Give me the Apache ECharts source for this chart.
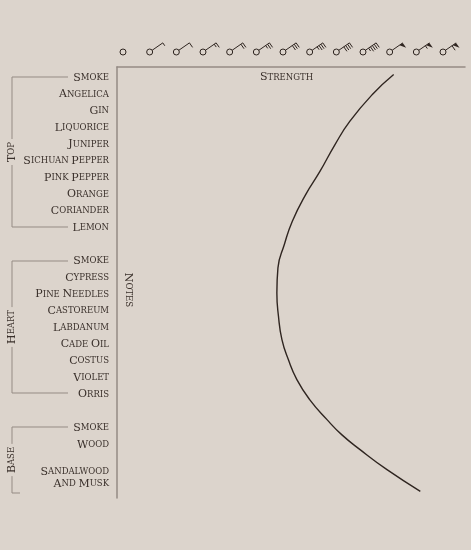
<!DOCTYPE html>
<html><head><meta charset="utf-8">
<script src="https://cdn.jsdelivr.net/npm/echarts@6/dist/echarts.min.js"></script>
<style>html,body{margin:0;background:#dcd4cc}#c{width:471px;height:550px}</style>
</head><body><div id="c"></div>
<script>
const topNotes = ['Smoke','Angelica','Gin','Liquorice','Juniper','Sichuan Pepper','Pink Pepper','Orange','Coriander','Lemon'];
const heartNotes = ['Smoke','Cypress','Pine needles','Castoreum','Labdanum','Cade oil','Costus','Violet','Orris'];
const baseNotes = ['Smoke','Wood','Ambrarome','Sandalwood\nand Musk'];
const strengthLevels = [0,1,2,3,4,5,6,7,8,9,10,11,12];
// curve samples: [row position, strength]
const curveRows =     [-0.2, 1.0, 2.6, 4.0, 5.6, 7.0, 8.6, 10.0, 11.4, 12.9, 14.3, 15.7, 16.9, 18.1, 19.3, 20.5, 21.4, 22.3, 23.5, 24.8];
const curveStrength = [10.0, 9.2, 8.36, 7.8, 7.24, 6.7, 6.2, 5.9, 5.66, 5.62, 5.68, 5.81, 6.05, 6.37, 6.85, 7.5, 8.05, 8.74, 9.75, 11.0];

const rowPos = {}; const rowVals = [];
topNotes.forEach((n,i)=>{rowPos[i]=n;rowVals.push(i);});
heartNotes.forEach((n,i)=>{rowPos[11+i]=n;rowVals.push(11+i);});
baseNotes.forEach((n,i)=>{rowPos[21+i]=n;rowVals.push(21+i);});

const ink = '#3a302b', rule = '#958b84';
function smallCaps(s){
  return s.split('\n').map(line=>line.split(' ').map(w=>'{a|'+w[0].toUpperCase()+'}{b|'+w.slice(1).toUpperCase()+'}').join('{b| }')).join('\n');
}
const chart = echarts.init(document.getElementById('c'));
const serif = 'DejaVu Serif';
const ymin = -0.65, ymax = 25.2;
const rich2 = {a:{fontFamily:serif,fontSize:11,fill:ink},b:{fontFamily:serif,fontSize:8.5,fill:ink}};
chart.setOption({
  backgroundColor:'#dcd4cc',
  animation:false,
  grid:{left:117,right:6,top:67,bottom:52},
  xAxis:{type:'value',position:'top',min:-0.375,max:12.675,
    axisLine:{show:true,onZero:false,lineStyle:{color:rule,width:1.5}},axisTick:{show:false},axisLabel:{show:false},splitLine:{show:false}},
  yAxis:{type:'value',inverse:true,min:ymin,max:ymax,
    axisLine:{show:true,onZero:false,lineStyle:{color:rule,width:1.5}},axisTick:{show:false},splitLine:{show:false},
    axisLabel:{customValues:rowVals,margin:8,hideOverlap:false,showMinLabel:true,showMaxLabel:true,lineHeight:12,formatter:v=>smallCaps(rowPos[v]||''),
      rich:{a:{fontFamily:serif,fontSize:11,color:ink,lineHeight:12},b:{fontFamily:serif,fontSize:8.5,color:ink,lineHeight:12}}}},
  series:[
    {type:'line',smooth:0.5,symbol:'none',lineStyle:{color:'#2f2520',width:1.4},
     data:curveRows.map((r,i)=>[curveStrength[i],r])},
    {type:'custom',clip:false,silent:true,data:strengthLevels.map(v=>[v,ymin]),
     renderItem:(params,api)=>{
       const p=api.coord([api.value(0),ymin]); const lvl=api.value(0);
       const cx=p[0]-4, cy=p[1]-15;
       const st={stroke:'#2f2520',lineWidth:1,fill:null};
       const ch=[{type:'circle',shape:{cx:cx,cy:cy,r:3},style:st}];
       if(lvl>0){
         const d=[0.82,-0.57], n=[0.57,0.82];
         const s=[cx+d[0]*3,cy+d[1]*3], e=[cx+d[0]*16,cy+d[1]*16];
         ch.push({type:'line',shape:{x1:s[0],y1:s[1],x2:e[0],y2:e[1]},style:st});
         let pos=0;
         let flags = lvl>=10?1:0; let rem = lvl>=10? lvl-10 : lvl;
         if(flags){
           const b=[e[0]-d[0]*4,e[1]-d[1]*4];
           ch.push({type:'polygon',shape:{points:[e,b,[e[0]+n[0]*6,e[1]+n[1]*6]]},style:{fill:'#2f2520'}});
           pos=5;
         }
         let longs=Math.floor(rem/2), half=rem%2;
         for(let k=0;k<longs+half;k++){
           const L=(k<longs)?5.5:3.5;
           const b=[e[0]-d[0]*pos,e[1]-d[1]*pos];
           ch.push({type:'line',shape:{x1:b[0],y1:b[1],x2:b[0]+n[0]*L,y2:b[1]+n[1]*L},style:st});
           pos+=2.3;
         }
       }
       return {type:'group',children:ch};
     }}
  ],
  graphic:[
    {type:'text',left:260,top:72,style:{text:'{a|S}{b|TRENGTH}',rich:rich2}},
    {type:'text',x:128,y:290,rotation:-Math.PI/2,style:{text:'{a|N}{b|OTES}',align:'center',verticalAlign:'middle',rich:rich2}},
    {type:'polyline',shape:{points:[[68,77],[12,77],[12,227],[68,227]]},style:{stroke:rule,lineWidth:1,fill:null}},
    {type:'polyline',shape:{points:[[68,261],[12,261],[12,393],[68,393]]},style:{stroke:rule,lineWidth:1,fill:null}},
    {type:'polyline',shape:{points:[[68,427],[12,427],[12,493],[20,493]]},style:{stroke:rule,lineWidth:1,fill:null}},
    {type:'text',x:12,y:152,rotation:Math.PI/2,style:{text:'{a|T}{b|OP}',align:'center',verticalAlign:'middle',backgroundColor:'#dcd4cc',padding:[0,3],rich:rich2}},
    {type:'text',x:12,y:327,rotation:Math.PI/2,style:{text:'{a|H}{b|EART}',align:'center',verticalAlign:'middle',backgroundColor:'#dcd4cc',padding:[0,3],rich:rich2}},
    {type:'text',x:12,y:460,rotation:Math.PI/2,style:{text:'{a|B}{b|ASE}',align:'center',verticalAlign:'middle',backgroundColor:'#dcd4cc',padding:[0,3],rich:rich2}}
  ]
});
</script></body></html>
